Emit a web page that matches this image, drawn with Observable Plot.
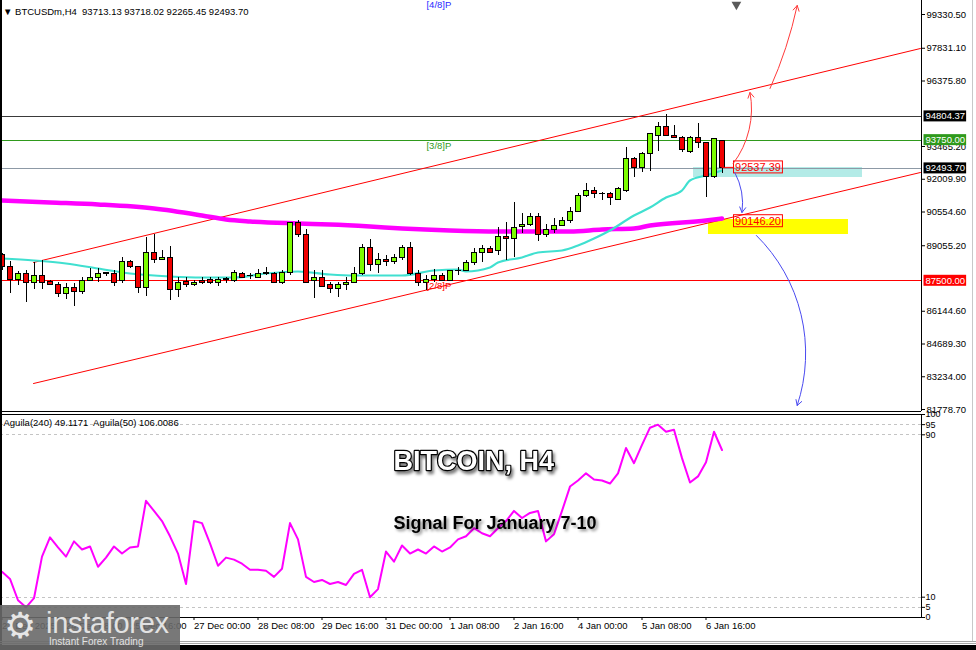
<!DOCTYPE html>
<html>
<head>
<meta charset="utf-8">
<script src="https://cdn.jsdelivr.net/npm/d3@7"></script>
<script src="https://cdn.jsdelivr.net/npm/@observablehq/plot@0.6"></script>
<style>
  html,body{margin:0;padding:0;background:#fff;}
  #wrap{position:relative;width:976px;height:650px;overflow:hidden;background:#fff;font-family:"Liberation Sans",Arial,sans-serif;}
  #main,#ind{position:absolute;left:0;}
  #main{top:0;}
  #ind{top:412px;}
  svg{overflow:visible;}
  #hdr{position:absolute;left:3px;top:6px;font-size:9.5px;color:#000;white-space:pre;line-height:11px;}
  #leftbar{position:absolute;left:0;top:0;width:2px;height:646px;background:#000;}
  #rightline{position:absolute;left:972px;top:0;width:1px;height:641px;background:#c8c8c8;}
  #b1{position:absolute;left:0;top:641px;width:976px;height:1px;background:#a8a8a8;}
  #b2{position:absolute;left:0;top:643px;width:976px;height:1px;background:#a8a8a8;}
  #b3{position:absolute;left:0;top:645px;width:976px;height:5px;background:#000;}
  #logo{position:absolute;left:0;top:605px;width:180px;height:45px;background:rgba(105,105,105,0.9);color:#e2e2e2;}
  #logo .gear{position:absolute;left:4px;top:1px;font-family:"DejaVu Sans";font-size:36px;line-height:40px;color:#e6e6e6;}
  #logo .name{position:absolute;left:46px;top:2px;font-size:29px;line-height:32px;letter-spacing:-0.3px;}
  #logo .tag{position:absolute;left:49px;top:31px;font-size:10px;line-height:12px;}
</style>
</head>
<body>
<div id="wrap">
  <div id="main"></div>
  <div id="ind"></div>
  <div id="hdr"></div>
  <div id="leftbar"></div>
  <div id="rightline"></div>
  <div id="b1"></div><div id="b2"></div><div id="b3"></div>
  <div id="logo"><span class="gear">⚙</span><span class="name">instaforex</span><span class="tag">Instant Forex Trading</span></div>
</div>
<script>
// ---------------- DATA ----------------
const symbol = "BTCUSDm,H4";
const HOUR = 3600 * 1000;
const barHours = 4;
const startTime = Date.UTC(2025, 11, 23, 0, 0); // first visible H4 bar

const opens  = [88622,88133,87555,87822,87378,87733,87466,87333,86889,87200,87022,87511,87644,87822,87822,87511,88311,88089,87200,88755,
                88444,88533,87111,87466,87333,87511,87555,87422,87555,87511,87822,87689,87644,87822,87822,87422,87866,90044,89555,87511,
                87600,87289,87155,87289,87422,87822,88933,88178,88444,88311,88533,88933,87822,87422,87555,87689,87511,87911,87955,88267,
                88711,88889,88800,89422,89377,89910,89999,90311,89555,89733,89955,90133,90577,91244,91510,91333,91333,91110,91466,92888,
                92532,93110,93954,94310,93910,93821,93199,93865,93643,92088,93713.13];
const highs  = [88711,88355,87911,87955,88311,88400,87511,87422,87378,87378,87644,88044,88044,87866,87955,88533,88400,88089,89422,89555,
                88844,89022,87644,87644,87511,87644,87644,87644,87644,87955,87866,87822,88000,88089,87866,87955,90088,90177,89777,87955,
                87955,87422,87422,87644,88089,89111,89333,88711,88622,88666,89067,89200,87955,87733,88000,87822,87955,88089,88400,88933,
                89067,89022,89866,90088,90977,90488,90488,90488,89999,90266,90311,90755,91377,91821,91644,91421,91421,91644,93421,92977,
                93199,94043,94532,94887,94399,93910,93910,94488,93643,93821,93718.02];
const lows   = [87955,86933,87289,86533,87111,87111,87289,86755,86667,86356,86889,87466,87422,87689,87244,87378,88044,86933,86800,88267,
                88400,86622,86755,87200,87244,87333,87333,87244,87378,87422,87600,87555,87600,87733,87378,87333,87733,89422,87422,86711,
                87200,86933,86755,87067,87378,87733,87911,87822,88133,88222,88400,87733,87244,87067,87422,87466,87466,87733,87911,88178,
                88311,88711,88622,88400,88533,89600,89910,89244,89422,89600,89910,90044,90533,91199,91155,91066,90844,91066,91421,92088,
                92310,92355,93244,93910,93821,93199,93155,93377,91199,92044,92265.45];
const closes = [88089,87555,87822,87422,87733,87422,87333,86889,87200,86978,87511,87644,87822,87832,87422,88311,88133,87200,88755,88444,
                88533,87111,87422,87333,87422,87422,87422,87555,87565,87866,87644,87699,87822,87832,87422,87866,90044,89555,87422,87600,
                87244,87155,87289,87422,87822,88933,88178,88444,88311,88533,88933,87822,87378,87555,87689,87511,87911,87921,88267,88755,
                88889,88755,89422,89377,89866,89999,90311,89555,89733,89955,90133,90577,91244,91510,91333,91343,91155,91555,92888,92532,
                93110,93999,94310,93910,93821,93288,93865,93643,92088,93777,92493.70];

// Moving averages (bar index, price)
const maIndex  = [0,4,8,12,16,21,25,29,33,37,41,44,50,54,57,58,61,62,65,67,70,72,74,76,79,81,83,85,86,88,90];
const maValues = [88489,88400,88267,88044,87822,87689,87644,87644,87822,87911,87778,87733,87733,87955,88000,87911,88089,88311,88533,88755,
                  88844,89067,89377,89733,90400,90755,91199,91510,91955,92177,92399];
const emaIndex  = [0,6,12,19,25,28,31,37,41,46,50,56,62,71,75,79,81,88,90];
const emaValues = [91066,90977,90888,90711,90400,90222,90133,90044,89999,89910,89822,89733,89689,89689,89777,89822,89955,90177,90266];

// Aguila oscillator, one value per bar
const aguila = [22.5,19,8.5,5,9.5,30,39.5,34.5,30,37.5,33.5,35,25,29.5,35,31.5,34.5,35,57.5,52.5,
                47.5,40,31.5,16.5,47.5,46.5,36.5,25.5,29.5,28.5,26.5,23.5,23.5,23,20,24,46.5,38.5,20,17.5,
                18.5,16.5,17.5,16,21.5,23.5,10,14,32.5,27.5,35.5,31.5,33.5,31.5,35,32.5,34.5,38.5,40,44,
                41.5,40,44,47.5,52.5,49,51.5,52.5,37.5,41,52.5,64.5,67.5,71,68,67.5,66,71,83.5,76,
                85,93.5,95,91.5,92.5,78.5,66.5,69.5,76.5,91.5,82.5];
const aguilaHeader = "Aguila(240) 49.1171  Aguila(50) 106.0086";
const aguilaLevels = [5, 10, 90, 95];
const aguilaTicks = [0, 5, 10, 90, 95, 100];

// Axis ticks
const priceTicks = [99330.50, 97831.10, 96375.80, 93465.20, 92009.90, 90554.60, 89055.20, 86144.60, 84689.30, 83234.00, 81778.70];
const timeTickIndex = [0, 8, 16, 24, 32, 40, 48, 56, 64, 72, 80, 88];
const timeTickLabels = ["23 Dec 2025", "24 Dec 08:00", "25 Dec 16:00", "27 Dec 00:00", "28 Dec 08:00", "29 Dec 16:00",
                        "31 Dec 00:00", "1 Jan 08:00", "2 Jan 16:00", "4 Jan 00:00", "5 Jan 08:00", "6 Jan 16:00"];

// Horizontal levels and right-axis price tags
const tagPrices = [94804.37, 93750.00, 92493.70, 87500.00];
const murreyLabels = ["[4/8]P", "[3/8]P", "[2/8]P"];
const murreyPrices = [100000, 93750, 87500];
const murreyLabelIndex = 53.06;

// Trend channel (bar index, price)
const channelUpperIdx = [3.94, 114.8], channelUpperPrice = [88311, 97820];
const channelLowerIdx = [3.94, 114.8], channelLowerPrice = [82934, 92310];

// Zones
const zoneCyan   = {i1: 86.44, i2: 107.56, p1: 92088, p2: 92532};
const zoneYellow = {i1: 88.31, i2: 105.81, p1: 89555, p2: 90222};

// Boxed price labels
const boxLabelPrices = [92537.39, 90146.20];
const boxLabelIndex = 91.44;

// Scenario arrows (bar index, price)
const arrowsUp   = [{i1: 91.4, p1: 92710, i2: 93.5, p2: 95865}, {i1: 96.0, p1: 96043, i2: 99.4, p2: 99731}];
const arrowsDown = [{i1: 91.6, p1: 92310, i2: 92.5, p2: 90533}, {i1: 94.3, p1: 89511, i2: 99.4, p2: 81957}];

const titleText = "BITCOIN, H4";
const subtitleText = "Signal For January 7-10";

// ---------------- BUILD ----------------
const idxTime = i => new Date(startTime + i * barHours * HOUR);
const xDomain = [new Date(startTime - 0.75 * HOUR), new Date(startTime + 459.75 * HOUR)];
const yDomain = [81690, 99953];

const candles = opens.map((o, i) => ({t: idxTime(i), o, h: highs[i], l: lows[i], c: closes[i]}));
const bull = candles.filter(d => d.c >= d.o);
const bear = candles.filter(d => d.c < d.o);
const ma = maIndex.map((k, j) => ({t: idxTime(k), v: maValues[j]}));
const ema = emaIndex.map((k, j) => ({t: idxTime(k), v: emaValues[j]}));
const chanU = channelUpperIdx.map((k, j) => ({t: idxTime(k), v: channelUpperPrice[j]}));
const chanL = channelLowerIdx.map((k, j) => ({t: idxTime(k), v: channelLowerPrice[j]}));
const last = candles[candles.length - 1];

const BULL = "#7cfc00", BEAR = "#f00000";
const font = "'Liberation Sans', Arial, sans-serif";
const tagColors = ["#000000", "#2f9a1c", "#000000", "#ff0000"];
const levelColors = ["#3a3a3a", "#2f9a1c", "#8d99a6", "#ff0000"];
const murreyColors = ["#2a2aff", "#2f9a1c", "#ff0000"];

const arrowMark = (d, bend, color) => Plot.arrow([d], {
  x1: a => idxTime(a.i1), y1: "p1", x2: a => idxTime(a.i2), y2: "p2",
  bend, stroke: color, strokeWidth: 1, headLength: 9
});

const main = Plot.plot({
  width: 976, height: 412,
  marginLeft: 0, marginRight: 55, marginTop: 0, marginBottom: 1,
  x: {type: "utc", domain: xDomain, axis: null},
  y: {domain: yDomain, axis: null},
  style: {fontFamily: font, fontSize: "9.5px", background: "transparent", color: "#000", overflow: "visible"},
  marks: [
    Plot.rect([zoneCyan], {x1: d => idxTime(d.i1), x2: d => idxTime(d.i2), y1: "p1", y2: "p2", fill: "#b3ebe7"}),
    Plot.rect([zoneYellow], {x1: d => idxTime(d.i1), x2: d => idxTime(d.i2), y1: "p1", y2: "p2", fill: "#ffff00"}),
    ...tagPrices.map((p, k) => Plot.ruleY([p], {stroke: levelColors[k], strokeWidth: 1, shapeRendering: "crispEdges"})),
    Plot.line(chanU, {x: "t", y: "v", stroke: "#ff0000", strokeWidth: 1}),
    Plot.line(chanL, {x: "t", y: "v", stroke: "#ff0000", strokeWidth: 1}),
    Plot.line(ema, {x: "t", y: "v", stroke: "#ff00ff", strokeWidth: 4.5, curve: "monotone-x"}),
    Plot.line(ma, {x: "t", y: "v", stroke: "#40e0d0", strokeWidth: 2.2, curve: "monotone-x"}),
    Plot.ruleX(candles, {x: "t", y1: "l", y2: "h", stroke: "#000", strokeWidth: 1, shapeRendering: "crispEdges"}),
    Plot.rect(bull, {x1: "t", x2: "t", y1: "o", y2: "c", insetLeft: -2.5, insetRight: -2.5, fill: BULL, stroke: "#000", strokeWidth: 1, shapeRendering: "crispEdges"}),
    Plot.rect(bear, {x1: "t", x2: "t", y1: "o", y2: "c", insetLeft: -2.5, insetRight: -2.5, fill: BEAR, stroke: "#000", strokeWidth: 1, shapeRendering: "crispEdges"}),
    Plot.ruleY([boxLabelPrices[0]], {x1: last.t, x2: idxTime(boxLabelIndex), stroke: "#ff0000"}),
    Plot.text(boxLabelPrices, {x: () => idxTime(boxLabelIndex), y: d => d, text: d => d.toFixed(2), textAnchor: "start", dx: 1.5, fill: "#ff0000", fontSize: 11}),
    ...arrowsUp.map((d, k) => arrowMark(d, k === 0 ? -24 : -6, "#ff3a3a")),
    ...arrowsDown.map((d, k) => arrowMark(d, k === 0 ? 18 : 32, "#4a4af0")),
    Plot.text(murreyLabels, {x: () => idxTime(murreyLabelIndex), y: (d, k) => murreyPrices[k], text: d => d, textAnchor: "start", lineAnchor: "top", dy: 2,
      fill: (d, k) => murreyColors[k], fontSize: 9.5}),
    Plot.dot([idxTime(91.8)], {x: d => d, y: () => 99770, symbol: "triangle", rotate: 180, r: 3.6, fill: "#5a5a5a", stroke: "none"}),
    Plot.ruleX([xDomain[1]], {stroke: "#000", strokeWidth: 1}),
    Plot.ruleY([yDomain[0]], {stroke: "#000", strokeWidth: 1}),
    Plot.axisY({anchor: "right", ticks: priceTicks, tickFormat: d => d.toFixed(2), tickSize: 3, tickPadding: 2, fontSize: 9.5, stroke: "#000"}),
    Plot.text(tagPrices, {y: d => d, text: d => d.toFixed(2), frameAnchor: "right", textAnchor: "start", dx: 4, fill: "#fff", fontSize: 9.5})
  ]
});

const labelMap = new Map(timeTickIndex.map((k, j) => [+idxTime(k), timeTickLabels[j]]));

const ind = Plot.plot({
  width: 976, height: 238,
  marginLeft: 0, marginRight: 55, marginTop: 2, marginBottom: 33,
  x: {type: "utc", domain: xDomain, axis: null},
  y: {domain: [0, 100], axis: null},
  style: {fontFamily: font, fontSize: "9.5px", background: "transparent", color: "#000", overflow: "visible"},
  marks: [
    Plot.ruleY(aguilaLevels, {stroke: "#c4c4c4", strokeDasharray: "3,3", shapeRendering: "crispEdges"}),
    Plot.line(aguila, {x: (d, i) => idxTime(i), y: d => d, stroke: "#ff00ff", strokeWidth: 2}),
    Plot.text([aguilaHeader], {frameAnchor: "top-left", text: d => d, textAnchor: "start", lineAnchor: "top", dx: 3, dy: 5, fontSize: 9.5, fill: "#000"}),
    Plot.text([titleText], {x: () => idxTime(48.94), y: () => 76.8, text: d => d, textAnchor: "start", fontSize: 27, fontWeight: "bold",
      fill: "#fff", stroke: "#000", strokeWidth: 2.4, paintOrder: "stroke"}),
    Plot.text([subtitleText], {x: () => idxTime(48.94), y: () => 46.3, text: d => d, textAnchor: "start", fontSize: 18, fontWeight: "bold",
      fill: "#000"}),
    Plot.frame({stroke: "#000"}),
    Plot.axisY({anchor: "right", ticks: aguilaTicks, tickFormat: d => String(d), tickSize: 3, tickPadding: 1, fontSize: 9}),
    Plot.axisX({anchor: "bottom", ticks: timeTickIndex.map(idxTime), tickFormat: d => labelMap.get(+d), tickSize: 3, tickPadding: 2,
      textAnchor: "start", fontSize: 9.5})
  ]
});

document.getElementById("main").appendChild(main);
document.getElementById("ind").appendChild(ind);
document.getElementById("hdr").textContent =
  "\u25BC " + symbol + "  " + [last.o, last.h, last.l, last.c].map(v => v.toFixed(2)).join(" ");

// Backgrounds / boxes around labels, located from the rendered text elements
function textsByContent(svg, strings) {
  return d3.select(svg).selectAll("text").filter(function() { return strings.includes(this.textContent); });
}
function boxTexts(sel, strings, fillFn, strokeFn, padL, padR, padY) {
  sel.each(function() {
    const k = strings.indexOf(this.textContent);
    const b = this.getBBox();
    const node = this;
    d3.select(this.parentNode).insert("rect", () => node)
      .attr("transform", this.getAttribute("transform"))
      .attr("x", b.x - padL).attr("y", b.y - padY)
      .attr("width", b.width + padL + padR).attr("height", b.height + 2 * padY)
      .attr("fill", fillFn(k)).attr("stroke", strokeFn(k));
  });
}
const tagStrings = tagPrices.map(p => p.toFixed(2));
const boxStrings = boxLabelPrices.map(p => p.toFixed(2));
// price tags: only the ones drawn in the right margin with white fill
boxTexts(textsByContent(main, tagStrings).filter(function() { return (this.getAttribute("fill") || this.parentNode.getAttribute("fill")) === "#fff"; }),
  tagStrings, k => tagColors[k], () => "none", 2, 1, 0);
boxTexts(textsByContent(main, boxStrings), boxStrings, () => "none", () => "#ff0000", 1.5, 1.5, 0);
textsByContent(ind, [titleText]).style("filter", "drop-shadow(2px 3px 1.5px rgba(0,0,0,0.5))");
textsByContent(ind, [subtitleText]).style("filter", "drop-shadow(2px 2px 1.5px rgba(0,0,0,0.45))");
</script>
</body>
</html>
